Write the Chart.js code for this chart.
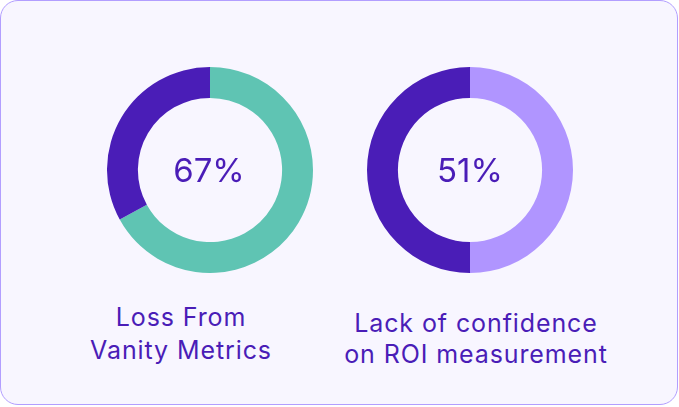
<!DOCTYPE html>
<html>
<head>
<meta charset="utf-8">
<script src="https://cdn.jsdelivr.net/npm/chart.js@4/dist/chart.umd.min.js"></script>
<style>
  html, body { margin: 0; padding: 0; width: 679px; height: 407px; background: #ffffff; overflow: hidden; }
  .card { position: absolute; left: 0; top: 0; width: 676px; height: 403px; border: 1.5px solid #B29EFF; border-radius: 18px; background: #F8F6FF; }
  .chartbox { position: absolute; width: 206px; height: 206px; }
  .center { position: absolute; width: 120px; text-align: center; font-family: Inter, "Noto Sans", sans-serif; font-size: 33px; line-height: 40px; color: #4A1DB7; font-weight: 400; }
  .label { position: absolute; width: 340px; text-align: center; font-family: Inter, "Noto Sans", sans-serif; font-size: 25px; letter-spacing: 0.9px; color: #4A1DB7; font-weight: 400; }
</style>
</head>
<body>
<div class="card"></div>
<div class="chartbox" style="left:107px; top:67px;"><canvas id="c1" width="206" height="206"></canvas></div>
<div class="chartbox" style="left:367px; top:67px;"><canvas id="c2" width="206" height="206"></canvas></div>
<div class="center" id="t1" style="left:149px; top:150px;"></div>
<div class="center" id="t2" style="left:410px; top:150px;"></div>
<div class="label" id="l1" style="left:11px; top:301px; line-height:33px;"></div>
<div class="label" id="l2" style="left:306px; top:308px; line-height:31px;"></div>
<script>
// Data
const chartTitles = ["Loss From\nVanity Metrics", "Lack of confidence\non ROI measurement"];
const centerLabels = ["67%", "51%"];
const leftValues = [67, 33];      // teal share, remaining dark purple
const rightValues = [50, 50];     // light purple share (as drawn), remaining dark purple
const leftColors = ["#5FC4B3", "#4A1DB7"];
const rightColors = ["#B095FF", "#4A1DB7"];

function makeDoughnut(id, values, colors) {
  new Chart(document.getElementById(id), {
    type: 'doughnut',
    data: {
      labels: values.map((v, i) => String(i)),
      datasets: [{ data: values, backgroundColor: colors, borderWidth: 0, hoverOffset: 0 }]
    },
    options: {
      responsive: false,
      maintainAspectRatio: false,
      animation: false,
      cutout: '70%',
      rotation: 0,
      layout: { padding: 0 },
      plugins: { legend: { display: false }, tooltip: { enabled: false } },
      events: []
    }
  });
}
makeDoughnut('c1', leftValues, leftColors);
makeDoughnut('c2', rightValues, rightColors);

document.getElementById('t1').textContent = centerLabels[0];
document.getElementById('t2').textContent = centerLabels[1];
document.getElementById('l1').innerHTML = chartTitles[0].split('\n').join('<br>');
document.getElementById('l2').innerHTML = chartTitles[1].split('\n').join('<br>');
</script>
</body>
</html>
